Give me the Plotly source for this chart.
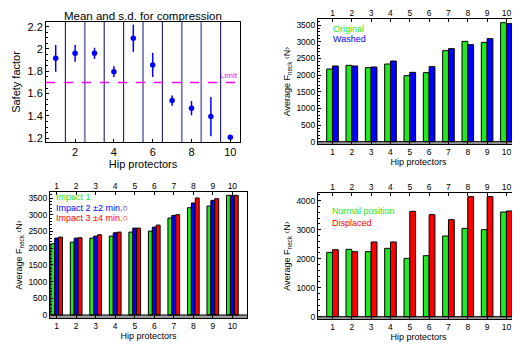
import plotly.graph_objects as go

# ---------------- data ----------------
protectors = [1, 2, 3, 4, 5, 6, 7, 8, 9, 10]

sf_mean = [1.916, 1.961, 1.961, 1.797, 2.096, 1.857, 1.537, 1.469, 1.394, 1.209]
sf_sd = [0.12, 0.075, 0.05, 0.048, 0.122, 0.108, 0.047, 0.064, 0.176, 0.0]
sf_limit = 1.7

orig_force = [2180, 2290, 2220, 2330, 1980, 2070, 2730, 3010, 2980, 3570]
washed_force = [2270, 2270, 2240, 2420, 2080, 2250, 2790, 2910, 3090, 3540]

impact1 = [2130, 2180, 2300, 2360, 2480, 2510, 2900, 3210, 3260, 3580]
impact2 = [2300, 2300, 2360, 2460, 2600, 2630, 2980, 3350, 3430, 3580]
impact3 = [2330, 2310, 2400, 2480, 2600, 2690, 3000, 3500, 3480, 3580]

normal_force = [2218, 2322, 2241, 2356, 2011, 2103, 2782, 3046, 3000, 3609]
displaced_force = [2310, 2241, 2575, 2575, 3632, 3517, 3345, 4138, 4138, 3644]

sf_ticks = [1.2, 1.4, 1.6, 1.8, 2.0, 2.2]
sf_ticktext = ["1.2", "1.4", "1.6", "1.8", "2", "2.2"]

GREEN = "#22e822"
BLUE = "#0000ff"
RED = "#ff0000"
FONT = "Liberation Sans, Arial, sans-serif"

# the page has an 8px body margin, so the figure sits at (8, 8)
OFF = 8
W, H = 512, 336


def px(a):
    return (a - OFF) / W


def py(a):
    return 1 - (a - OFF) / H


def xd(a, b):
    return [px(a), px(b)]


def yd(top, bottom):
    return [py(bottom), py(top)]


fig = go.Figure()

# ---------- panel 1 : safety factor ----------
fig.add_trace(go.Scatter(
    x=protectors, y=sf_mean, mode="markers",
    marker=dict(color=BLUE, size=5.5),
    error_y=dict(type="data", array=sf_sd, color=BLUE, thickness=1.5, width=0),
    xaxis="x", yaxis="y", showlegend=False))

# ---------- panel 2 : original vs washed ----------
bar_line = dict(color="black", width=1)
fig.add_trace(go.Bar(x=protectors, y=orig_force, marker=dict(color=GREEN, line=bar_line),
                     xaxis="x2", yaxis="y2", offsetgroup="a", showlegend=False))
fig.add_trace(go.Bar(x=protectors, y=washed_force, marker=dict(color=BLUE, line=bar_line),
                     xaxis="x2", yaxis="y2", offsetgroup="b", showlegend=False))

# ---------- panel 3 : impacts ----------
fig.add_trace(go.Bar(x=protectors, y=impact1, marker=dict(color=GREEN, line=bar_line),
                     xaxis="x3", yaxis="y3", offsetgroup="c", showlegend=False))
fig.add_trace(go.Bar(x=protectors, y=impact2, marker=dict(color=BLUE, line=bar_line),
                     xaxis="x3", yaxis="y3", offsetgroup="d", showlegend=False))
fig.add_trace(go.Bar(x=protectors, y=impact3, marker=dict(color=RED, line=bar_line),
                     xaxis="x3", yaxis="y3", offsetgroup="e", showlegend=False))

# ---------- panel 4 : normal vs displaced ----------
fig.add_trace(go.Bar(x=protectors, y=normal_force, marker=dict(color=GREEN, line=bar_line),
                     xaxis="x4", yaxis="y4", offsetgroup="f", showlegend=False))
fig.add_trace(go.Bar(x=protectors, y=displaced_force, marker=dict(color=RED, line=bar_line),
                     xaxis="x4", yaxis="y4", offsetgroup="g", showlegend=False))

# invisible traces to carry the top axes of the bar panels
for xa, ya in [("x5", "y2"), ("x6", "y3"), ("x7", "y4")]:
    fig.add_trace(go.Scatter(x=protectors, y=[None] * 10, mode="markers",
                             xaxis=xa, yaxis=ya, showlegend=False, hoverinfo="skip"))

TF = 8.5  # tick font of the bar panels
axis_common = dict(showline=True, linecolor="black", linewidth=1, mirror=True,
                   showgrid=False, zeroline=False, ticks="inside", ticklen=3,
                   tickcolor="black", automargin=False,
                   tickfont=dict(family=FONT, size=TF, color="black"))

ylab_force = "Average F<sub>neck</sub> ‹N›"

p1x, p1y = xd(46, 240), yd(22, 142)
p2x, p2y = xd(318, 519), yd(19, 144)
p3x, p3y = xd(50, 247), yd(192, 318)
p4x, p4y = xd(318, 519), yd(193, 319)

r2 = [-70, 3680]
r3 = [-90, 3680]
r4 = [-80, 4264]
xr_bar = [0.25, 10.65]
xr3 = [0.66, 10.75]

fig.update_layout(
    width=W, height=H, margin=dict(l=0, r=0, t=0, b=0, autoexpand=False),
    paper_bgcolor="white", plot_bgcolor="white",
    font=dict(family=FONT, color="black"),
    barmode="group", bargap=0.4, bargroupgap=0.0,
    xaxis=dict(axis_common, domain=p1x, range=[0.5, 10.5], anchor="y",
               tickvals=[2, 4, 6, 8, 10], tickfont=dict(family=FONT, size=11),
               title=dict(text="Hip protectors", font=dict(size=11), standoff=2)),
    yaxis=dict(axis_common, domain=p1y, range=[1.166, 2.242], anchor="x",
               tickvals=sf_ticks, ticktext=sf_ticktext, tickfont=dict(family=FONT, size=11),
               minor=dict(ticks="inside", ticklen=2, dtick=0.05, tickcolor="black"),
               title=dict(text="Safety factor", font=dict(size=11), standoff=4)),
    xaxis2=dict(axis_common, domain=p2x, range=xr_bar, anchor="y2",
                tickvals=protectors,
                title=dict(text="Hip protectors", font=dict(size=9), standoff=1)),
    yaxis2=dict(axis_common, domain=p2y, range=r2, anchor="x2",
                tickvals=[0, 500, 1000, 1500, 2000, 2500, 3000, 3500],
                minor=dict(ticks="inside", ticklen=2, dtick=100, tickcolor="black"),
                title=dict(text=ylab_force, font=dict(size=9), standoff=4)),
    xaxis5=dict(axis_common, domain=p2x, range=xr_bar, anchor="y2", overlaying="x2",
                side="top", tickvals=protectors, mirror=False, showline=False),
    xaxis3=dict(axis_common, domain=p3x, range=xr3, anchor="y3",
                tickvals=protectors,
                title=dict(text="Hip protectors", font=dict(size=9), standoff=1)),
    yaxis3=dict(axis_common, domain=p3y, range=r3, anchor="x3",
                tickvals=[0, 500, 1000, 1500, 2000, 2500, 3000, 3500],
                minor=dict(ticks="inside", ticklen=2, dtick=100, tickcolor="black"),
                title=dict(text=ylab_force, font=dict(size=9), standoff=4)),
    xaxis6=dict(axis_common, domain=p3x, range=xr3, anchor="y3", overlaying="x3",
                side="top", tickvals=protectors, mirror=False, showline=False),
    xaxis4=dict(axis_common, domain=p4x, range=xr_bar, anchor="y4",
                tickvals=protectors,
                title=dict(text="Hip protectors", font=dict(size=9), standoff=1)),
    yaxis4=dict(axis_common, domain=p4y, range=r4, anchor="x4",
                tickvals=[0, 1000, 2000, 3000, 4000],
                minor=dict(ticks="inside", ticklen=2, dtick=200, tickcolor="black"),
                title=dict(text=ylab_force, font=dict(size=9), standoff=4)),
    xaxis7=dict(axis_common, domain=p4x, range=xr_bar, anchor="y4", overlaying="x4",
                side="top", tickvals=protectors, mirror=False, showline=False),
)

shapes = []
# separators in panel 1 (alternating dark / lighter as in the original rendering)
sep_x = [1.5, 2.5, 3.5, 4.5, 5.5, 6.5, 7.5, 8.5, 9.5]
sep_dark = [True, False, True, True, False, True, False, False, True]
for xv, dark in zip(sep_x, sep_dark):
    shapes.append(dict(type="line", xref="x", yref="y domain", x0=xv, x1=xv, y0=0, y1=1,
                       line=dict(color="#1c1c78" if dark else "#7b7bb8",
                                 width=1.1 if dark else 1.8), layer="below"))
# limit line
shapes.append(dict(type="line", xref="x domain", yref="y", x0=0, x1=1, y0=sf_limit, y1=sf_limit,
                   line=dict(color="#ff00ff", width=1.6, dash="dash")))
# gray baseline bands in bar panels
for xa, ya, rr in [("x2", "y2", r2), ("x3", "y3", r3), ("x4", "y4", r4)]:
    shapes.append(dict(type="rect", xref=xa + " domain", yref=ya, x0=0, x1=1, y0=rr[0], y1=0,
                       fillcolor="#9a9a9a", line=dict(width=0), layer="below"))
    shapes.append(dict(type="line", xref=xa + " domain", yref=ya, x0=0, x1=1, y0=0, y1=0,
                       line=dict(color="black", width=1)))


def label(text, x, y, color, size=9):
    return dict(text=text, xref="paper", yref="paper", x=px(x), y=py(y),
                xanchor="left", yanchor="middle", showarrow=False,
                font=dict(size=size, color=color, family=FONT))


annotations = [
    dict(text="Mean and s.d. for compression", xref="paper", yref="paper",
         x=px(143), y=py(15.5), xanchor="center", yanchor="middle", showarrow=False,
         font=dict(size=11.5, family=FONT)),
    dict(text="Limit", xref="x domain", yref="y", x=1, y=sf_limit, xanchor="right",
         yanchor="bottom", showarrow=False, font=dict(size=8, color="#ff00ff", family=FONT)),
    label("Original", 331, 29, GREEN),
    label("Washed", 331, 38.5, BLUE),
    label("Impact 1", 54, 197, GREEN),
    label("Impact 2 ±2 min.○", 54, 207.5, BLUE),
    label("Impact 3 ±4 min.○", 54, 218, RED),
    label("Normal position", 330, 211, GREEN),
    label("Displaced", 330, 223, RED),
]

fig.update_layout(shapes=shapes, annotations=annotations)

fig.write_html("out.html")
